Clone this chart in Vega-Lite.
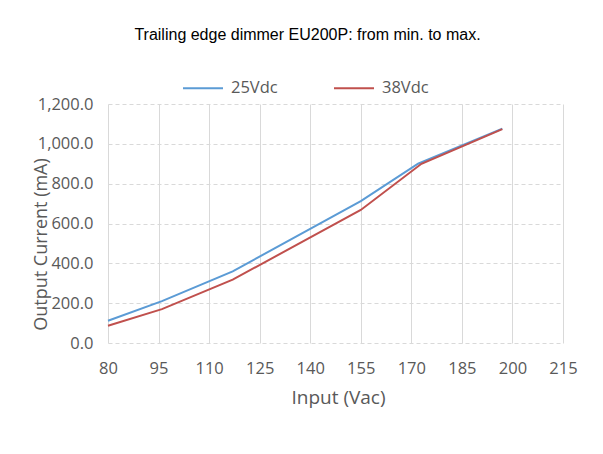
{
  "$schema": "https://vega.github.io/schema/vega-lite/v6.json",
  "autosize": {"type": "none"},
  "width": 455,
  "height": 239,
  "padding": {"left": 108, "top": 104, "right": 40, "bottom": 111},
  "background": "white",
  "title": {
    "text": "Trailing edge dimmer EU200P: from min. to max.",
    "font": "Liberation Sans",
    "fontSize": 16,
    "fontWeight": "normal",
    "color": "#000000",
    "anchor": "middle",
    "dx": -28,
    "offset": 24
  },
  "data": {
    "values": [
      {"input": 80, "current": 112, "series": "25Vdc"},
      {"input": 96, "current": 210, "series": "25Vdc"},
      {"input": 117, "current": 360, "series": "25Vdc"},
      {"input": 155, "current": 712, "series": "25Vdc"},
      {"input": 172, "current": 900, "series": "25Vdc"},
      {"input": 197, "current": 1076, "series": "25Vdc"},
      {"input": 80, "current": 87, "series": "38Vdc"},
      {"input": 96, "current": 170, "series": "38Vdc"},
      {"input": 117, "current": 318, "series": "38Vdc"},
      {"input": 155, "current": 668, "series": "38Vdc"},
      {"input": 173, "current": 900, "series": "38Vdc"},
      {"input": 197, "current": 1074, "series": "38Vdc"}
    ]
  },
  "mark": {"type": "line", "strokeWidth": 2},
  "encoding": {
    "x": {
      "field": "input",
      "type": "quantitative",
      "scale": {"domain": [80, 215], "nice": false, "zero": false},
      "axis": {
        "values": [80, 95, 110, 125, 140, 155, 170, 185, 200, 215],
        "title": "Input (Vac)",
        "titleX": 230,
        "titleY": 54,
        "titleBaseline": "middle",
        "titleAlign": "center",
        "titleFont": "Open Sans",
        "titleFontSize": 19,
        "titleFontWeight": "normal",
        "titleColor": "#595959",
        "labelFont": "Open Sans",
        "labelFontSize": 16.5,
        "labelColor": "#595959",
        "labelPadding": 17,
        "labelFlush": false,
        "labelOverlap": false,
        "ticks": false,
        "domain": false,
        "grid": true,
        "gridColor": "#D9D9D9",
        "gridWidth": 1
      }
    },
    "y": {
      "field": "current",
      "type": "quantitative",
      "scale": {"domain": [0, 1200], "nice": false},
      "axis": {
        "values": [0, 200, 400, 600, 800, 1000, 1200],
        "format": ",.1f",
        "title": "Output Current (mA)",
        "titleAngle": -90,
        "titleX": -67,
        "titleY": 140,
        "titleBaseline": "middle",
        "titleAlign": "center",
        "titleFont": "Open Sans",
        "titleFontSize": 18,
        "titleFontWeight": "normal",
        "titleColor": "#595959",
        "labelFont": "Open Sans",
        "labelFontSize": 16.5,
        "labelColor": "#595959",
        "labelPadding": 15,
        "labelFlush": false,
        "ticks": false,
        "domain": false,
        "grid": true,
        "gridColor": "#D9D9D9",
        "gridDash": [4, 3],
        "gridWidth": 1
      }
    },
    "color": {
      "field": "series",
      "type": "nominal",
      "scale": {"domain": ["25Vdc", "38Vdc"], "range": ["#5B9BD5", "#C0504D"]},
      "legend": {
        "title": null,
        "orient": "none",
        "direction": "horizontal",
        "legendX": 74,
        "legendY": -37,
        "symbolType": "stroke",
        "symbolSize": 1600,
        "symbolStrokeWidth": 2,
        "labelFont": "Open Sans",
        "labelFontSize": 16.5,
        "labelColor": "#595959",
        "columnPadding": 52,
        "labelOffset": 7
      }
    }
  },
  "config": {
    "view": {"stroke": null}
  }
}
